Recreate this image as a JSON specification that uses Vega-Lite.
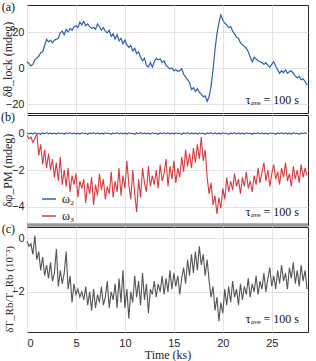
{
"$schema": "https://vega.github.io/schema/vega-lite/v6.json",
"padding": {"left": 0, "top": 0, "right": 2, "bottom": 0},
"spacing": 2,
"bounds": "flush",
"resolve": {"legend": {"color": "independent"}},
"config": {
  "view": {"stroke": "#262626", "strokeWidth": 1},
  "axis": {"grid": true, "gridColor": "#e3e3e3", "gridWidth": 1, "domain": false, "ticks": false,
           "labelFont": "Liberation Sans", "labelFontSize": 11, "labelColor": "#262626", "labelPadding": 3,
           "titleFont": "Liberation Serif", "titleFontSize": 12, "titleFontWeight": "normal", "titleColor": "#262626"},
  "text": {"font": "Liberation Serif", "fontSize": 12, "color": "#111111"}
},
"datasets": {
"D": [
{"t":0,"a":3.5,"w2":0.02,"w3":-0.1,"c":-0.1},
{"t":0.2,"a":2.5,"w2":-0.03,"w3":-0.3,"c":-0.3},
{"t":0.4,"a":1.2,"w2":0.01,"w3":-0.2,"c":-0.2},
{"t":0.6,"a":2.0,"w2":-0.04,"w3":-0.5,"c":-0.6},
{"t":0.8,"a":4.5,"w2":0.03,"w3":-0.3,"c":0.1},
{"t":1.0,"a":5.5,"w2":-0.01,"w3":0.0,"c":-0.8},
{"t":1.2,"a":6.5,"w2":0.0,"w3":-1.2,"c":-0.5},
{"t":1.4,"a":8.5,"w2":-0.05,"w3":-0.6,"c":-1.2},
{"t":1.6,"a":9.0,"w2":0.02,"w3":-1.7,"c":-0.7},
{"t":1.8,"a":12.5,"w2":-0.02,"w3":-0.9,"c":-1.4},
{"t":2.0,"a":16.0,"w2":0.04,"w3":-1.9,"c":-1.0},
{"t":2.2,"a":14.5,"w2":-0.03,"w3":-1.1,"c":-1.5},
{"t":2.4,"a":15.5,"w2":0.02,"w3":-2.0,"c":-0.9},
{"t":2.6,"a":14.0,"w2":-0.03,"w3":-1.4,"c":-1.6},
{"t":2.8,"a":15.5,"w2":0.01,"w3":-2.4,"c":-1.3},
{"t":3.0,"a":16.0,"w2":-0.04,"w3":-1.6,"c":-0.4},
{"t":3.2,"a":16.5,"w2":0.03,"w3":-2.6,"c":-1.8},
{"t":3.4,"a":19.5,"w2":-0.01,"w3":-1.3,"c":-1.2},
{"t":3.6,"a":20.5,"w2":0.0,"w3":-2.8,"c":-1.7},
{"t":3.8,"a":18.5,"w2":-0.05,"w3":-2.0,"c":-1.3},
{"t":4.0,"a":21.5,"w2":0.02,"w3":-2.9,"c":-0.5},
{"t":4.2,"a":20.0,"w2":-0.02,"w3":-1.9,"c":-1.9},
{"t":4.4,"a":22.0,"w2":0.04,"w3":-3.2,"c":-1.4},
{"t":4.6,"a":21.0,"w2":-0.03,"w3":-2.3,"c":-2.4},
{"t":4.8,"a":23.0,"w2":0.02,"w3":-2.8,"c":-1.7},
{"t":5.0,"a":23.5,"w2":-0.03,"w3":-2.2,"c":-2.1},
{"t":5.2,"a":22.5,"w2":0.01,"w3":-3.5,"c":-1.9},
{"t":5.4,"a":25.5,"w2":-0.04,"w3":-2.6,"c":-2.2},
{"t":5.6,"a":24.0,"w2":0.03,"w3":-3.0,"c":-2.0},
{"t":5.8,"a":25.8,"w2":-0.01,"w3":-2.5,"c":-2.3},
{"t":6.0,"a":23.5,"w2":0.0,"w3":-3.8,"c":-1.8},
{"t":6.2,"a":24.5,"w2":-0.05,"w3":-2.7,"c":-2.5},
{"t":6.4,"a":23.0,"w2":0.02,"w3":-3.3,"c":-2.0},
{"t":6.6,"a":22.0,"w2":-0.02,"w3":-2.4,"c":-2.7},
{"t":6.8,"a":22.5,"w2":0.04,"w3":-3.9,"c":-1.9},
{"t":7.0,"a":21.5,"w2":-0.03,"w3":-2.8,"c":-2.6},
{"t":7.2,"a":24.5,"w2":0.02,"w3":-3.4,"c":-2.1},
{"t":7.4,"a":23.0,"w2":-0.03,"w3":-2.2,"c":-2.4},
{"t":7.6,"a":21.0,"w2":0.01,"w3":-3.1,"c":-1.8},
{"t":7.8,"a":22.5,"w2":-0.04,"w3":-2.5,"c":-2.5},
{"t":8.0,"a":20.5,"w2":0.03,"w3":-3.6,"c":-2.2},
{"t":8.2,"a":19.5,"w2":-0.01,"w3":-2.9,"c":-1.6},
{"t":8.4,"a":21.0,"w2":0.0,"w3":-3.3,"c":-2.6},
{"t":8.6,"a":17.5,"w2":-0.05,"w3":-2.1,"c":-2.0},
{"t":8.8,"a":19.0,"w2":0.02,"w3":-3.5,"c":-2.3},
{"t":9.0,"a":16.0,"w2":-0.02,"w3":-2.6,"c":-1.7},
{"t":9.2,"a":18.5,"w2":0.04,"w3":-3.2,"c":-2.6},
{"t":9.4,"a":15.0,"w2":-0.03,"w3":-1.9,"c":-1.5},
{"t":9.6,"a":16.5,"w2":0.02,"w3":-3.4,"c":-2.4},
{"t":9.8,"a":13.5,"w2":-0.03,"w3":-2.3,"c":-1.2},
{"t":10.0,"a":15.5,"w2":0.01,"w3":-3.0,"c":-2.6},
{"t":10.2,"a":13.0,"w2":-0.04,"w3":-1.5,"c":-1.9},
{"t":10.4,"a":11.5,"w2":0.03,"w3":-2.8,"c":-3.0},
{"t":10.6,"a":12.5,"w2":-0.01,"w3":-3.6,"c":-2.0},
{"t":10.8,"a":9.5,"w2":0.0,"w3":-2.0,"c":-2.4},
{"t":11.0,"a":11.0,"w2":-0.05,"w3":-3.3,"c":-1.4},
{"t":11.2,"a":8.0,"w2":0.02,"w3":-4.3,"c":-2.2},
{"t":11.4,"a":9.0,"w2":-0.02,"w3":-2.5,"c":-1.6},
{"t":11.6,"a":6.0,"w2":0.04,"w3":-3.5,"c":-2.5},
{"t":11.8,"a":4.0,"w2":-0.03,"w3":-1.9,"c":-1.3},
{"t":12.0,"a":5.5,"w2":0.02,"w3":-2.7,"c":-2.3},
{"t":12.2,"a":1.5,"w2":-0.03,"w3":-3.2,"c":-1.7},
{"t":12.4,"a":0.5,"w2":0.01,"w3":-1.8,"c":-2.8},
{"t":12.6,"a":3.0,"w2":-0.04,"w3":-2.9,"c":-1.9},
{"t":12.8,"a":0.5,"w2":0.03,"w3":-2.3,"c":-2.1},
{"t":13.0,"a":3.5,"w2":-0.01,"w3":-2.8,"c":-1.6},
{"t":13.2,"a":5.5,"w2":0.0,"w3":-2.0,"c":-2.2},
{"t":13.4,"a":4.5,"w2":-0.05,"w3":-3.0,"c":-1.7},
{"t":13.6,"a":5.0,"w2":0.02,"w3":-1.7,"c":-2.0},
{"t":13.8,"a":3.0,"w2":-0.02,"w3":-2.6,"c":-1.4},
{"t":14.0,"a":4.0,"w2":0.04,"w3":-2.2,"c":-2.1},
{"t":14.2,"a":1.5,"w2":-0.03,"w3":-1.4,"c":-1.5},
{"t":14.4,"a":0.5,"w2":0.02,"w3":-2.9,"c":-2.0},
{"t":14.6,"a":-0.5,"w2":-0.03,"w3":-1.8,"c":-1.2},
{"t":14.8,"a":0.0,"w2":0.01,"w3":-2.5,"c":-1.9},
{"t":15.0,"a":-1.5,"w2":-0.04,"w3":-1.5,"c":-1.3},
{"t":15.2,"a":-1.0,"w2":0.03,"w3":-2.7,"c":-1.8},
{"t":15.4,"a":-1.8,"w2":-0.01,"w3":-1.9,"c":-1.4},
{"t":15.6,"a":-1.5,"w2":0.0,"w3":-2.4,"c":-2.1},
{"t":15.8,"a":-0.5,"w2":-0.05,"w3":-1.3,"c":-1.5},
{"t":16.0,"a":-3.5,"w2":0.02,"w3":-2.1,"c":-1.1},
{"t":16.2,"a":-5.0,"w2":-0.02,"w3":-0.9,"c":-1.7},
{"t":16.4,"a":-6.5,"w2":0.04,"w3":-1.8,"c":-0.8},
{"t":16.6,"a":-8.0,"w2":-0.03,"w3":-1.1,"c":-1.4},
{"t":16.8,"a":-12.0,"w2":0.02,"w3":-1.9,"c":-0.6},
{"t":17.0,"a":-11.0,"w2":-0.03,"w3":-0.8,"c":-1.3},
{"t":17.2,"a":-13.0,"w2":0.01,"w3":-1.6,"c":-0.5},
{"t":17.4,"a":-11.5,"w2":-0.04,"w3":-0.6,"c":-1.2},
{"t":17.6,"a":-13.5,"w2":0.03,"w3":-1.4,"c":-0.3},
{"t":17.8,"a":-14.5,"w2":-0.01,"w3":-0.2,"c":-1.0},
{"t":18.0,"a":-16.0,"w2":0.0,"w3":-1.5,"c":-0.6},
{"t":18.2,"a":-15.5,"w2":-0.05,"w3":-0.9,"c":-1.4},
{"t":18.4,"a":-18.5,"w2":0.02,"w3":-2.4,"c":-0.8},
{"t":18.6,"a":-16.0,"w2":-0.02,"w3":-3.3,"c":-1.6},
{"t":18.8,"a":-10.0,"w2":0.04,"w3":-2.7,"c":-2.2},
{"t":19.0,"a":-1.0,"w2":-0.03,"w3":-3.9,"c":-1.8},
{"t":19.2,"a":10.0,"w2":0.02,"w3":-3.4,"c":-2.7},
{"t":19.4,"a":19.0,"w2":-0.03,"w3":-4.4,"c":-2.2},
{"t":19.6,"a":25.0,"w2":0.01,"w3":-3.5,"c":-3.1},
{"t":19.8,"a":29.5,"w2":-0.04,"w3":-4.1,"c":-2.4},
{"t":20.0,"a":26.5,"w2":0.03,"w3":-3.0,"c":-2.8},
{"t":20.2,"a":25.0,"w2":-0.01,"w3":-3.6,"c":-1.9},
{"t":20.4,"a":24.0,"w2":0.0,"w3":-2.4,"c":-2.5},
{"t":20.6,"a":22.5,"w2":-0.05,"w3":-3.2,"c":-1.8},
{"t":20.8,"a":23.0,"w2":0.02,"w3":-2.6,"c":-2.4},
{"t":21.0,"a":20.5,"w2":-0.02,"w3":-3.1,"c":-1.6},
{"t":21.2,"a":19.0,"w2":0.04,"w3":-2.2,"c":-2.2},
{"t":21.4,"a":17.0,"w2":-0.03,"w3":-2.9,"c":-1.9},
{"t":21.6,"a":16.5,"w2":0.02,"w3":-2.5,"c":-2.5},
{"t":21.8,"a":14.0,"w2":-0.03,"w3":-3.3,"c":-1.7},
{"t":22.0,"a":13.0,"w2":0.01,"w3":-2.4,"c":-2.3},
{"t":22.2,"a":12.0,"w2":-0.04,"w3":-2.9,"c":-1.8},
{"t":22.4,"a":11.0,"w2":0.03,"w3":-2.1,"c":-2.1},
{"t":22.6,"a":9.0,"w2":-0.01,"w3":-3.0,"c":-1.5},
{"t":22.8,"a":6.0,"w2":0.0,"w3":-2.6,"c":-2.2},
{"t":23.0,"a":3.5,"w2":-0.05,"w3":-3.2,"c":-1.7},
{"t":23.2,"a":6.0,"w2":0.02,"w3":-2.3,"c":-2.0},
{"t":23.4,"a":5.0,"w2":-0.02,"w3":-2.8,"c":-1.4},
{"t":23.6,"a":4.0,"w2":0.04,"w3":-1.9,"c":-2.1},
{"t":23.8,"a":3.5,"w2":-0.03,"w3":-2.7,"c":-1.6},
{"t":24.0,"a":3.0,"w2":0.02,"w3":-2.1,"c":-1.9},
{"t":24.2,"a":2.0,"w2":-0.03,"w3":-1.6,"c":-1.3},
{"t":24.4,"a":3.0,"w2":0.01,"w3":-2.6,"c":-2.0},
{"t":24.6,"a":1.5,"w2":-0.04,"w3":-2.0,"c":-1.5},
{"t":24.8,"a":0.5,"w2":0.03,"w3":-2.9,"c":-1.1},
{"t":25.0,"a":2.0,"w2":-0.01,"w3":-2.2,"c":-1.8},
{"t":25.2,"a":3.5,"w2":0.0,"w3":-1.7,"c":-1.4},
{"t":25.4,"a":1.0,"w2":-0.05,"w3":-2.5,"c":-1.9},
{"t":25.6,"a":-1.0,"w2":0.02,"w3":-2.1,"c":-1.2},
{"t":25.8,"a":-3.0,"w2":-0.02,"w3":-2.8,"c":-1.7},
{"t":26.0,"a":-1.5,"w2":0.04,"w3":-1.9,"c":-1.0},
{"t":26.2,"a":-2.5,"w2":-0.03,"w3":-2.4,"c":-1.6},
{"t":26.4,"a":-1.0,"w2":0.02,"w3":-1.6,"c":-1.3},
{"t":26.6,"a":-3.0,"w2":-0.03,"w3":-2.6,"c":-1.9},
{"t":26.8,"a":-2.0,"w2":0.01,"w3":-2.2,"c":-1.1},
{"t":27.0,"a":-1.5,"w2":-0.04,"w3":-2.9,"c":-1.5},
{"t":27.2,"a":-3.0,"w2":0.03,"w3":-1.8,"c":-0.9},
{"t":27.4,"a":-4.5,"w2":-0.01,"w3":-2.5,"c":-1.7},
{"t":27.6,"a":-5.5,"w2":0.0,"w3":-2.0,"c":-1.2},
{"t":27.8,"a":-4.5,"w2":-0.05,"w3":-2.7,"c":-1.8},
{"t":28.0,"a":-6.5,"w2":0.02,"w3":-1.7,"c":-1.0},
{"t":28.2,"a":-6.0,"w2":-0.02,"w3":-2.4,"c":-1.6},
{"t":28.4,"a":-7.5,"w2":0.04,"w3":-1.9,"c":-1.2},
{"t":28.6,"a":-9.5,"w2":-0.03,"w3":-2.3,"c":-1.9}
]
},
"vconcat": [
{
  "width": 281, "height": 108,
  "layer": [
    {"data": {"name": "D"},
     "mark": {"type": "line", "color": "#2f5fae", "strokeWidth": 1.2},
     "encoding": {
       "x": {"field": "t", "type": "quantitative", "scale": {"domain": [0, 28.7], "nice": false, "zero": false},
             "axis": {"values": [0,5,10,15,20,25], "labels": false, "title": null}},
       "y": {"field": "a", "type": "quantitative", "scale": {"domain": [-25, 35], "nice": false},
             "axis": {"values": [-20,0,20], "title": "δθ_lock (mdeg)", "titleX": -13}}
     }},
    {"data": {"values": [{"s": "(a)"}]},
     "mark": {"type": "text", "align": "right", "baseline": "top", "dx": -12, "dy": -3},
     "encoding": {"x": {"datum": 0, "type": "quantitative"}, "y": {"datum": 35, "type": "quantitative"}, "text": {"field": "s"}}},
    {"data": {"values": [{"s": "τₐᵥₑ = 100 s"}]},
     "mark": {"type": "text", "align": "right", "baseline": "bottom", "dx": -9, "dy": -6},
     "encoding": {"x": {"datum": 28.7, "type": "quantitative"}, "y": {"datum": -25, "type": "quantitative"}, "text": {"field": "s"}}}
  ]
},
{
  "width": 281, "height": 110,
  "layer": [
    {"data": {"name": "D"},
     "transform": [{"fold": ["w2", "w3"], "as": ["k", "v"]}],
     "mark": {"type": "line", "strokeWidth": 1.1},
     "encoding": {
       "x": {"field": "t", "type": "quantitative", "scale": {"domain": [0, 28.7], "nice": false, "zero": false},
             "axis": {"values": [0,5,10,15,20,25], "labels": false, "title": null}},
       "y": {"field": "v", "type": "quantitative", "scale": {"domain": [-5, 1], "nice": false},
             "axis": {"values": [-4,-2,0], "title": "δφ_PM (mdeg)", "titleX": -13}},
       "color": {"field": "k", "type": "nominal", "scale": {"domain": ["w2", "w3"], "range": ["#2f5fae", "#d93a40"]},
                 "legend": {"orient": "none", "legendX": 14, "legendY": 76, "title": null, "symbolType": "stroke", "symbolSize": 196,
                            "symbolStrokeWidth": 1.5, "labelFont": "Liberation Serif", "labelFontSize": 12, "labelColor": "#111",
                            "rowPadding": 3, "padding": 0, "labelOffset": 5,
                            "labelExpr": "datum.label == 'w2' ? 'ω₂' : 'ω₃'"}}
     }},
    {"data": {"values": [{"s": "b"}]},
     "mark": {"type": "rule", "color": "#9a9a9a", "strokeWidth": 3.5},
     "encoding": {"y": {"datum": -5, "type": "quantitative"}}},
    {"data": {"values": [{"s": "(b)"}]},
     "mark": {"type": "text", "align": "right", "baseline": "top", "dx": -12, "dy": -3},
     "encoding": {"x": {"datum": 0, "type": "quantitative"}, "y": {"datum": 1, "type": "quantitative"}, "text": {"field": "s"}}},
    {"data": {"values": [{"s": "τₐᵥₑ = 100 s"}]},
     "mark": {"type": "text", "align": "right", "baseline": "bottom", "dx": -9, "dy": -6},
     "encoding": {"x": {"datum": 28.7, "type": "quantitative"}, "y": {"datum": -5, "type": "quantitative"}, "text": {"field": "s"}}}
  ]
},
{
  "width": 281, "height": 105,
  "layer": [
    {"data": {"name": "D"},
     "mark": {"type": "line", "color": "#555555", "strokeWidth": 1.1},
     "encoding": {
       "x": {"field": "t", "type": "quantitative", "scale": {"domain": [0, 28.7], "nice": false, "zero": false},
             "axis": {"values": [0,5,10,15,20,25], "title": "Time (ks)", "labelPadding": 5, "titlePadding": 1}},
       "y": {"field": "c", "type": "quantitative", "scale": {"domain": [-3.5, 0.42], "nice": false},
             "axis": {"values": [-2,0], "title": "δT_Rb/T_Rb (10⁻³)", "titleX": -13, "titleFontSize": 11, "titleY": 62}}
     }},
    {"data": {"values": [{"s": "(c)"}]},
     "mark": {"type": "text", "align": "right", "baseline": "top", "dx": -12, "dy": -3},
     "encoding": {"x": {"datum": 0, "type": "quantitative"}, "y": {"datum": 0.42, "type": "quantitative"}, "text": {"field": "s"}}},
    {"data": {"values": [{"s": "τₐᵥₑ = 100 s"}]},
     "mark": {"type": "text", "align": "right", "baseline": "bottom", "dx": -9, "dy": -6},
     "encoding": {"x": {"datum": 28.7, "type": "quantitative"}, "y": {"datum": -3.5, "type": "quantitative"}, "text": {"field": "s"}}}
  ]
}
]
}
